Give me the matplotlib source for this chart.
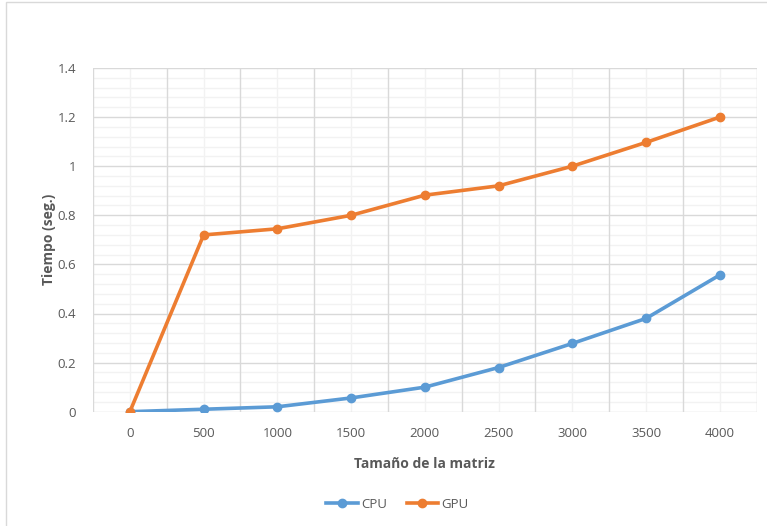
import matplotlib
matplotlib.use("Agg")
import matplotlib.pyplot as plt
from matplotlib.patches import Rectangle
from matplotlib.lines import Line2D
import numpy as np

plt.rcParams['font.family'] = ['Open Sans', 'DejaVu Sans']

sizes = ["0", "500", "1000", "1500", "2000", "2500", "3000", "3500", "4000"]
cpu = [0.0, 0.01, 0.02, 0.056, 0.10, 0.18, 0.278, 0.38, 0.557]
gpu = [0.0, 0.72, 0.745, 0.80, 0.882, 0.92, 1.0, 1.097, 1.2]
y_ticks = [0, 0.2, 0.4, 0.6, 0.8, 1, 1.2, 1.4]
y_tick_labels = ["0", "0.2", "0.4", "0.6", "0.8", "1", "1.2", "1.4"]

cpu_color = "#5B9BD5"
gpu_color = "#ED7D31"
text_color = "#595959"
major_grid = "#D9D9D9"
minor_grid = "#F2F2F2"

fig = plt.figure(figsize=(7.67, 5.26), dpi=100)
fig.patches.append(Rectangle((6 / 767, -0.1), 1.2, 1 - 2 / 526 + 0.1,
                             transform=fig.transFigure, fill=False,
                             edgecolor="#D9D9D9", linewidth=1.0))

ax = fig.add_axes([93 / 767, 1 - 411.7 / 526, (756.7 - 93) / 767, (411.7 - 68) / 526])
x = np.arange(len(sizes))

# grid: horizontal minor/major, vertical at category centres (minor) and boundaries (major)
for v in np.arange(0, 1.4001, 0.04):
    major = abs(v / 0.2 - round(v / 0.2)) < 1e-6
    ax.axhline(v, color=major_grid if major else minor_grid,
               linewidth=1.0, zorder=1 if major else 0.5)
for xi in x:
    ax.axvline(xi, color=minor_grid, linewidth=1.0, zorder=0.5)
for xb in np.arange(-0.5, len(sizes), 1.0):
    ax.axvline(xb, color=major_grid, linewidth=1.0, zorder=1)

ax.plot(x, cpu, color=cpu_color, linewidth=2.6, marker="o", markersize=6,
        solid_capstyle="round", zorder=3, label="CPU")
ax.plot(x, gpu, color=gpu_color, linewidth=2.6, marker="o", markersize=6,
        solid_capstyle="round", zorder=3, label="GPU")

ax.set_xlim(-0.5, len(sizes) - 0.5)
ax.set_ylim(0, 1.4)
ax.set_xticks(x)
ax.set_xticklabels(sizes)
ax.set_yticks(y_ticks)
ax.set_yticklabels(y_tick_labels)
ax.tick_params(axis="both", length=0, labelsize=9.5, labelcolor=text_color)
ax.tick_params(axis="y", pad=12)
ax.tick_params(axis="x", pad=11)
for s in ax.spines.values():
    s.set_visible(False)

ax.set_xlabel("Tamaño de la matriz", fontsize=10, fontweight="bold",
              color=text_color, labelpad=12)
ax.set_ylabel("Tiempo (seg.)", fontsize=10, fontweight="bold",
              color=text_color, labelpad=1)

handles = [Line2D([], [], color=cpu_color, linewidth=2.6, marker="o", markersize=6),
           Line2D([], [], color=gpu_color, linewidth=2.6, marker="o", markersize=6)]
leg = fig.legend(handles, ["CPU", "GPU"], loc="center", bbox_to_anchor=(0.518, 1 - 504 / 526),
                 ncol=2, frameon=False, fontsize=9.5, handlelength=2.4,
                 handletextpad=0.2, columnspacing=1.5)
for t in leg.get_texts():
    t.set_color(text_color)

fig.savefig("out.png", dpi=100)
